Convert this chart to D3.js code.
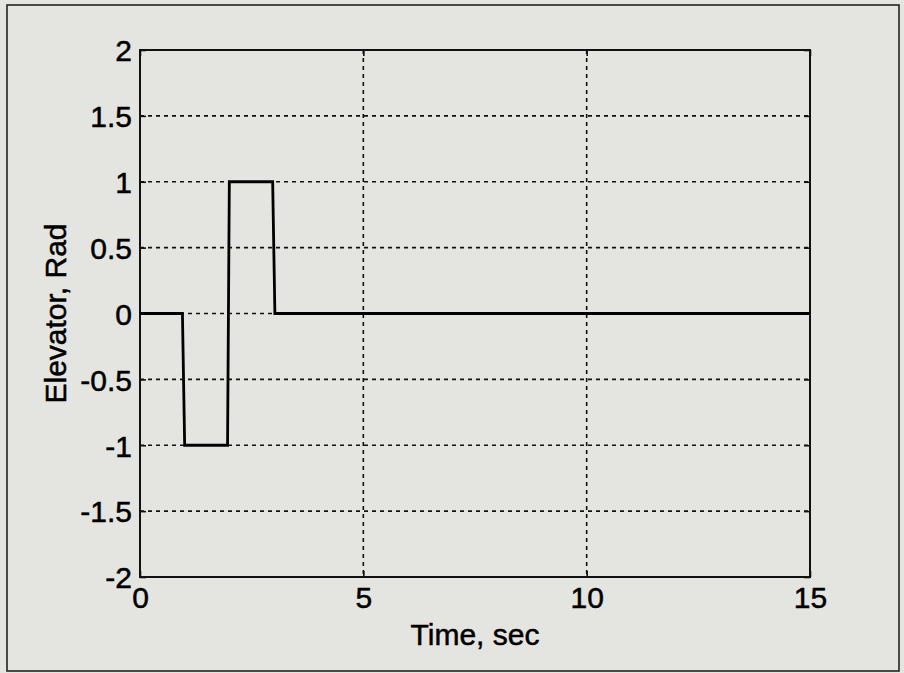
<!DOCTYPE html>
<html><head><meta charset="utf-8">
<script src="https://cdn.jsdelivr.net/npm/d3@7"></script>
<style>
html,body{margin:0;padding:0;background:#e4e4e0;}
svg{display:block;}
</style></head>
<body>
<svg id="c" width="904" height="673"></svg>
<script>
const times = [0, 0.95, 1, 1.96, 2, 2.97, 3.02, 15];
const elevator = [0, 0, -1, -1, 1, 1, 0, 0];
const xTicks = [0, 5, 10, 15];
const yTicks = [-2, -1.5, -1, -0.5, 0, 0.5, 1, 1.5, 2];
const xLabel = "Time, sec";
const yLabel = "Elevator, Rad";

const svg = d3.select("#c");
const W = 904, H = 673;
const m = {l:140, r:810, t:50, b:577};
const font = "Liberation Sans, Arial, Helvetica, sans-serif";
const fs = "30px";

svg.append("rect").attr("x",0).attr("y",0).attr("width",W).attr("height",H).attr("fill","#e4e4e0");
svg.append("rect").attr("x",7).attr("y",5).attr("width",892).attr("height",666)
  .attr("fill","none").attr("stroke","#222").attr("stroke-width",1.6);

const x = d3.scaleLinear().domain([0,15]).range([m.l,m.r]);
const y = d3.scaleLinear().domain([-2,2]).range([m.b,m.t]);

// grid
const g = svg.append("g");
g.selectAll(".gx").data(xTicks.filter(d=>d>0&&d<15)).join("line")
  .attr("x1",d=>x(d)).attr("x2",d=>x(d)).attr("y1",m.t).attr("y2",m.b)
  .attr("stroke","#111").attr("stroke-width",1.6).attr("stroke-dasharray","4,4");
g.selectAll(".gy").data(yTicks.filter(d=>d>-2&&d<2)).join("line")
  .attr("y1",d=>y(d)).attr("y2",d=>y(d)).attr("x1",m.l).attr("x2",m.r)
  .attr("stroke","#111").attr("stroke-width",1.6).attr("stroke-dasharray","4,4");

const fmt = d => String(d);
const axL = d3.axisLeft(y).tickValues(yTicks).tickSize(-6).tickFormat(fmt);
const axR = d3.axisRight(y).tickValues(yTicks).tickSize(-6).tickFormat("");
const axB = d3.axisBottom(x).tickValues(xTicks).tickSize(-6).tickFormat(fmt);
const axT = d3.axisTop(x).tickValues(xTicks).tickSize(-6).tickFormat("");

function style(sel){
  sel.select(".domain").remove();
  sel.selectAll("line").attr("stroke","#111").attr("stroke-width",1.6);
  sel.selectAll("text").attr("fill","#000").attr("stroke","#000").attr("stroke-width",0.5)
    .style("font-family",font).style("font-size",fs);
}
const gl = svg.append("g").attr("transform",`translate(${m.l},0)`).call(axL).call(style);
gl.selectAll("text").attr("x",-8).attr("dy","0.36em");
svg.append("g").attr("transform",`translate(${m.r},0)`).call(axR).call(style);
const gb = svg.append("g").attr("transform",`translate(0,${m.b})`).call(axB).call(style);
gb.selectAll("text").attr("y",10).attr("dy","0.71em");
svg.append("g").attr("transform",`translate(0,${m.t})`).call(axT).call(style);

// box
svg.append("rect").attr("x",m.l).attr("y",m.t).attr("width",m.r-m.l).attr("height",m.b-m.t)
  .attr("fill","none").attr("stroke","#111").attr("stroke-width",2);

// data line
const data = times.map((t,i)=>[t,elevator[i]]);
svg.append("path").datum(data)
  .attr("d", d3.line().x(d=>x(d[0])).y(d=>y(d[1])))
  .attr("fill","none").attr("stroke","#000").attr("stroke-width",2.8).attr("stroke-linejoin","miter");

// labels
svg.append("text").attr("x",(m.l+m.r)/2).attr("y",645).attr("text-anchor","middle")
  .attr("stroke","#000").attr("stroke-width",0.5)
  .style("font-family",font).style("font-size",fs).attr("fill","#000").text(xLabel);
svg.append("text").attr("transform",`translate(66,${(m.t+m.b)/2}) rotate(-90)`).attr("text-anchor","middle")
  .attr("stroke","#000").attr("stroke-width",0.5)
  .style("font-family",font).style("font-size",fs).attr("fill","#000").text(yLabel);
</script>
</body></html>
